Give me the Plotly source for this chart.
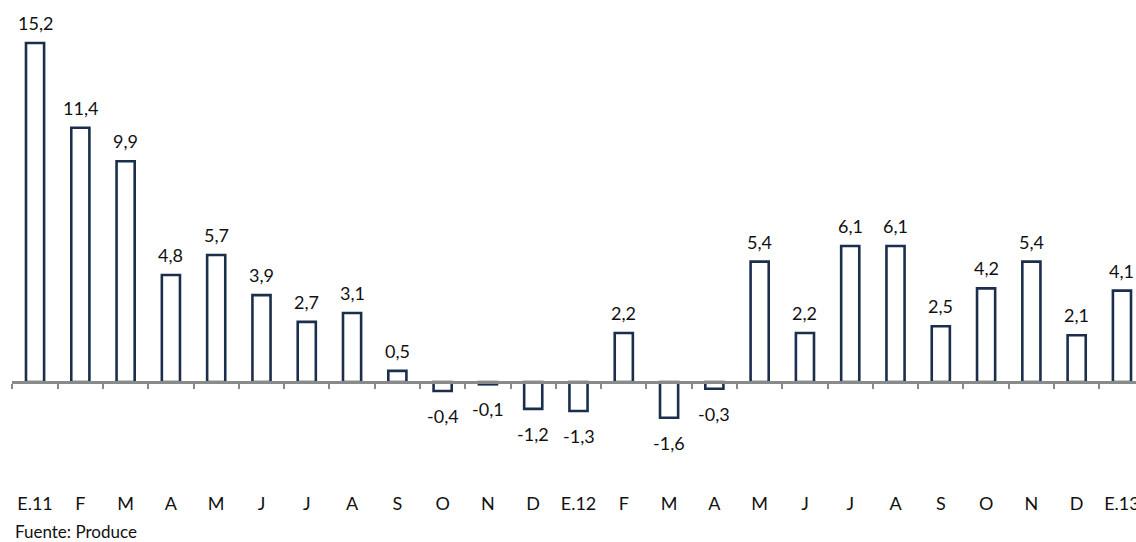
import plotly.graph_objects as go

# crecimiento mensual (var. % anual)
meses = ["E.11", "F", "M", "A", "M", "J", "J", "A", "S", "O", "N", "D",
         "E.12", "F", "M", "A", "M", "J", "J", "A", "S", "O", "N", "D", "E.13"]
valores = [15.2, 11.4, 9.9, 4.8, 5.7, 3.9, 2.7, 3.1, 0.5, -0.4, -0.1, -1.2,
           -1.3, 2.2, -1.6, -0.3, 5.4, 2.2, 6.1, 6.1, 2.5, 4.2, 5.4, 2.1, 4.1]
fuente = "Fuente: Produce"

FONT = "Lato, 'Open Sans', sans-serif"
NAVY = "#1b2f4d"
GRIS = "#8a8a8a"

W, H = 1136, 542

x = list(range(len(meses)))

fig = go.Figure()
fig.add_trace(go.Bar(
    x=x, y=valores, width=0.40,
    marker=dict(color="white", line=dict(color=NAVY, width=2.6)),
    hoverinfo="skip", showlegend=False,
))

# etiquetas de datos (coma decimal)
for xi, v in zip(x, valores):
    fig.add_annotation(
        x=xi, y=v, xref="x", yref="y",
        text=f"{v:.1f}".replace(".", ","),
        showarrow=False, yanchor="middle",
        yshift=20 if v >= 0 else -25,
        font=dict(family=FONT, size=18, color="#111111"),
    )

fig.add_annotation(
    x=13 / W, y=1 - 531 / H, xref="paper", yref="paper", yanchor="middle",
    xanchor="left", text=fuente, showarrow=False,
    font=dict(family=FONT, size=17, color="#111111"),
)

fig.update_layout(
    template="none",
    width=W, height=H,
    margin=dict(l=0, r=0, t=0, b=0),
    paper_bgcolor="white", plot_bgcolor="white",
    xaxis=dict(
        domain=[12.4 / W, 1], range=[-0.5, 24.31],
        anchor="free", position=160 / H,
        showline=True, linecolor=GRIS, linewidth=3,
        showgrid=False, zeroline=False,
        tickvals=x, ticktext=meses, ticks="",
        ticklabelstandoff=104, ticklabeloverflow="allow",
        tickfont=dict(family=FONT, size=18, color="#111111"),
        minor=dict(tickvals=[i - 0.5 for i in range(len(meses) + 1)],
                   ticks="outside", ticklen=5, tickwidth=2, tickcolor=GRIS,
                   showgrid=False),
    ),
    yaxis=dict(range=[-7.17, 17.13], visible=False, showgrid=False, zeroline=False),
)

# sin el margen por defecto del body, la figura ocupa toda la ventana
fig.write_html("out.html", config={"displayModeBar": False},
               post_script="document.body.style.margin='0';")
